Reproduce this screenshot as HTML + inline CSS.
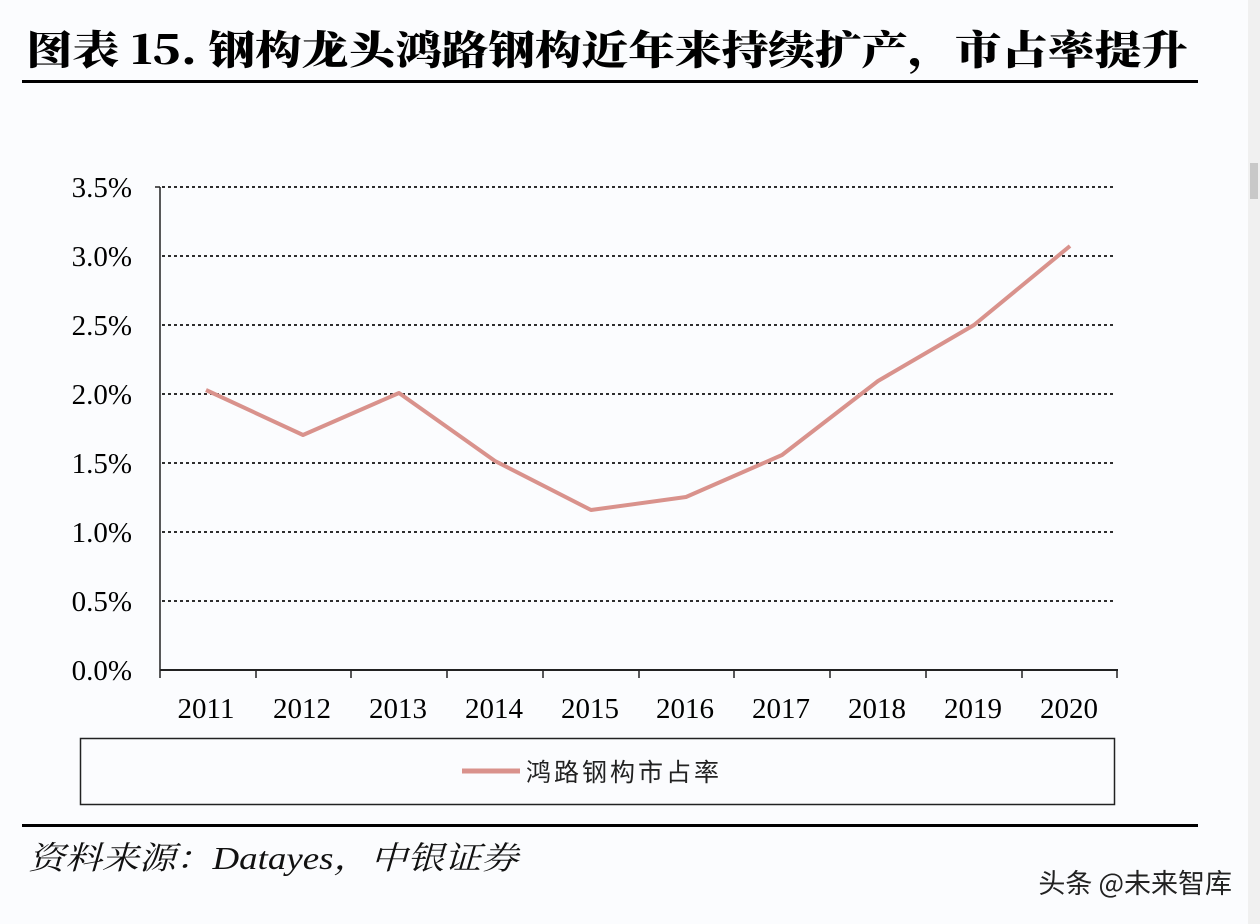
<!DOCTYPE html>
<html><head><meta charset="utf-8"><style>
html,body{margin:0;padding:0;background:#fbfcfe;}
body{width:1260px;height:924px;overflow:hidden;position:relative;}
</style></head><body>
<svg width="1260" height="924" xmlns="http://www.w3.org/2000/svg" style="position:absolute;left:0;top:0">
<rect x="0" y="0" width="1260" height="924" fill="#fbfcfe"/>
<rect x="1248" y="0" width="12" height="924" fill="#f0f0f0"/>
<rect x="1250" y="163" width="8" height="36" fill="#c8c8c8"/>
<text x="26" y="64" font-family="'Noto Serif CJK SC','Liberation Serif',serif" font-weight="900" font-size="40" fill="#000" textLength="1162" lengthAdjust="spacingAndGlyphs">图表 15. 钢构龙头鸿路钢构近年来持续扩产，市占率提升</text>
<rect x="22" y="80" width="1176" height="3" fill="#000"/>
<g stroke="#111" stroke-width="1.8" stroke-dasharray="3,3">
<line x1="162" y1="187" x2="1116" y2="187"/>
<line x1="162" y1="256" x2="1116" y2="256"/>
<line x1="162" y1="325" x2="1116" y2="325"/>
<line x1="162" y1="394" x2="1116" y2="394"/>
<line x1="162" y1="463" x2="1116" y2="463"/>
<line x1="162" y1="532" x2="1116" y2="532"/>
<line x1="162" y1="601" x2="1116" y2="601"/>
</g>
<line x1="160" y1="187" x2="160" y2="670" stroke="#222" stroke-width="1.5"/>
<line x1="155" y1="187" x2="160" y2="187" stroke="#222" stroke-width="1.5"/>
<line x1="160" y1="670" x2="1118" y2="670" stroke="#222" stroke-width="2"/>
<g stroke="#222" stroke-width="1.5">
<line x1="160" y1="670" x2="160" y2="678"/><line x1="256" y1="670" x2="256" y2="678"/><line x1="351" y1="670" x2="351" y2="678"/><line x1="447" y1="670" x2="447" y2="678"/><line x1="543" y1="670" x2="543" y2="678"/><line x1="639" y1="670" x2="639" y2="678"/><line x1="734" y1="670" x2="734" y2="678"/><line x1="830" y1="670" x2="830" y2="678"/><line x1="926" y1="670" x2="926" y2="678"/><line x1="1022" y1="670" x2="1022" y2="678"/><line x1="1117" y1="670" x2="1117" y2="678"/>
</g>
<g font-family="'Liberation Serif',serif" font-size="29" fill="#000" text-anchor="end">
<text x="132" y="197">3.5%</text><text x="132" y="266">3.0%</text><text x="132" y="335">2.5%</text><text x="132" y="404">2.0%</text><text x="132" y="473">1.5%</text><text x="132" y="542">1.0%</text><text x="132" y="611">0.5%</text><text x="132" y="680">0.0%</text>
</g>
<g font-family="'Liberation Serif',serif" font-size="29" fill="#000" text-anchor="middle">
<text x="206" y="718">2011</text><text x="302" y="718">2012</text><text x="398" y="718">2013</text><text x="494" y="718">2014</text><text x="590" y="718">2015</text><text x="685" y="718">2016</text><text x="781" y="718">2017</text><text x="877" y="718">2018</text><text x="973" y="718">2019</text><text x="1069" y="718">2020</text>
</g>
<polyline fill="none" stroke="#d9928c" stroke-width="4" stroke-linejoin="round" points="206,390 303,435 399,393 495,461 591,510 686,497 782,455 878,381 974,325 1070,246"/>
<rect x="80.5" y="738.5" width="1034" height="66" fill="none" stroke="#222" stroke-width="1.5"/>
<line x1="462" y1="771" x2="520" y2="771" stroke="#d9928c" stroke-width="5"/>
<text x="526" y="781" font-family="'Noto Sans CJK SC',sans-serif" font-size="25" fill="#222" letter-spacing="3">鸿路钢构市占率</text>
<rect x="22" y="824" width="1176" height="3" fill="#000"/>
<text x="28" y="869" font-family="'Liberation Serif','Noto Serif CJK SC',serif" font-style="italic" font-size="32" fill="#111" textLength="490" lengthAdjust="spacingAndGlyphs">资料来源：Datayes，中银证券</text>
<text x="1232" y="893" text-anchor="end" font-family="'Noto Sans CJK SC',sans-serif" font-size="27" fill="#222">头条 @未来智库</text>
</svg>
</body></html>
